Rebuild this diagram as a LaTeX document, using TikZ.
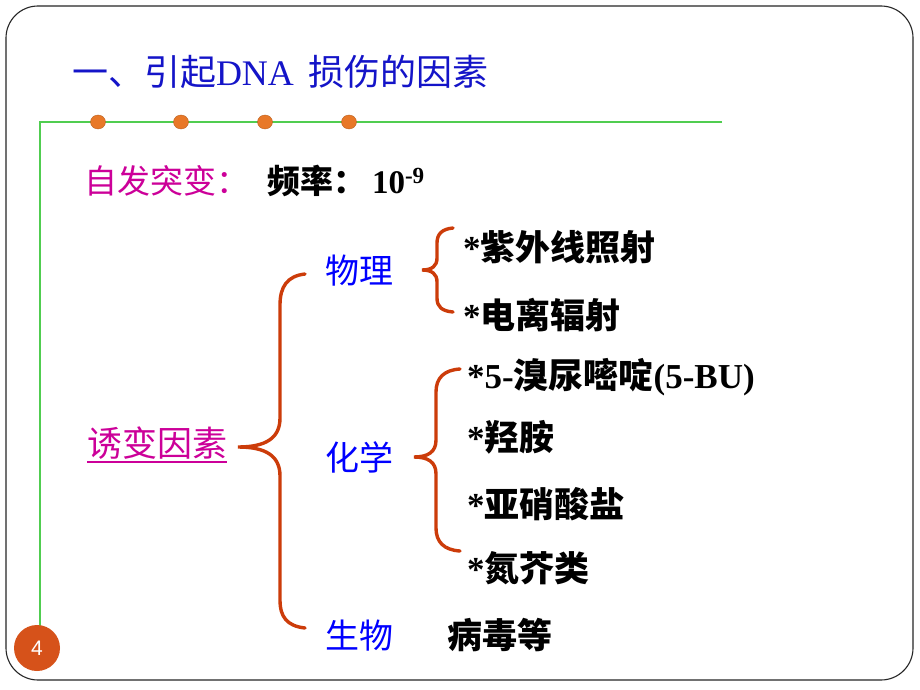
\documentclass[tikz,border=0pt]{standalone}
\usepackage{fontspec}
\usetikzlibrary{shapes.geometric}
\newfontfamily\cjk{Noto Sans CJK SC}
\newfontfamily\tnr{Liberation Serif}
\newfontfamily\arial{Liberation Sans}
\definecolor{titleblue}{RGB}{20,20,200}
\definecolor{catblue}{RGB}{0,0,255}
\definecolor{mag}{RGB}{204,0,153}
\definecolor{bracec}{RGB}{204,60,10}
\definecolor{dotc}{RGB}{232,120,40}
\definecolor{pagec}{RGB}{214,82,26}
\definecolor{greenl}{RGB}{80,205,80}
\begin{document}
\begin{tikzpicture}[x=1pt,y=-1pt,
  txt/.style={anchor=base west,inner sep=0pt,outer sep=0pt},
  itm/.style={txt,text=black,font=\fontsize{35}{40}\selectfont\cjk\bfseries},
  cat/.style={txt,text=catblue,font=\fontsize{34}{40}\selectfont\cjk},
  brc/.style={draw=bracec,line width=3.4pt,line cap=round},
  dotn/.style={ellipse,fill=dotc,draw=dotc!80!black,line width=0.4pt,minimum width=15pt,minimum height=14pt,inner sep=0pt}]
\useasboundingbox (0,0) rectangle (920,690);
\fill[white] (0,0) rectangle (920,690);
\draw[line width=1.1pt,draw=black!85,rounded corners=32pt] (6,6) rectangle (913,680);
% green rules
\coordinate (gl) at (40,122);
\coordinate (gr) at (722,122);
\coordinate (gb) at (40,633);
\draw[greenl,line width=1.2pt] (gr) -- (gl) -- (gb);
\foreach \i/\x in {1/98,2/181,3/265,4/349}{
  \node[dotn] (dot\i) at (\x,122) {};
}
% title
\node[txt,text=titleblue,font=\fontsize{36}{42}\selectfont] (title) at (72,86)
  {{\cjk 一、引起}{\tnr DNA}\hspace{15pt}{\cjk 损伤的因素}};
% spontaneous
\node[txt,text=mag,font=\fontsize{33}{40}\selectfont\cjk] (spont) at (84,193) {自发突变：};
\node[txt,text=black,font=\fontsize{33}{40}\selectfont\cjk\bfseries] (freq) at (267,193)
  {频率：\hspace{6pt}{\tnr\bfseries 10\textsuperscript{-9}}};
% categories
\node[txt,text=mag,font=\fontsize{35}{40}\selectfont\cjk] (mut) at (87,456) {诱变因素};
\draw[mag,line width=1.5pt] (mut.base west) ++(0,6) coordinate (ul1) -- (ul1 -| mut.base east);
\node[cat] (phys) at (325,283) {物理};
\node[cat] (chem) at (325,470) {化学};
\node[cat] (bio) at (325,648) {生物};
\node[itm] (virus) at (447,648) {病毒等};
% items
\node[itm] (uv) at (463,260) {{\tnr\bfseries *}紫外线照射};
\node[itm] (ion) at (463,328) {{\tnr\bfseries *}电离辐射};
\node[itm] (bu) at (467,388) {{\tnr\bfseries *5-}溴尿嘧啶{\tnr\bfseries (5-BU)}};
\node[itm] (ha) at (467,450) {{\tnr\bfseries *}羟胺};
\node[itm] (nit) at (467,517) {{\tnr\bfseries *}亚硝酸盐};
\node[itm] (mus) at (467,581) {{\tnr\bfseries *}氮芥类};
% braces
\draw[brc] (305,274) .. controls (287,276) and (280,287) .. (280,305) -- (280,418)
  .. controls (280,438) and (266,447) .. (238,447)
  .. controls (266,447) and (280,456) .. (280,476) -- (280,600)
  .. controls (280,617) and (287,626) .. (305,628);
\draw[brc] (453,228) .. controls (442,229) and (437,234) .. (437,243) -- (437,258)
  .. controls (437,266) and (432,270) .. (422,270)
  .. controls (432,270) and (437,274) .. (437,282) -- (437,298)
  .. controls (437,307) and (442,311) .. (453,312);
\draw[brc] (460,369) .. controls (444,370) and (436,378) .. (436,392) -- (436,440)
  .. controls (436,452) and (428,457) .. (414,457)
  .. controls (428,457) and (436,462) .. (436,474) -- (436,528)
  .. controls (436,542) and (444,550) .. (460,551);
% page number
\node[circle,fill=pagec,minimum size=46pt,inner sep=0pt,text=white,font=\fontsize{21}{24}\selectfont\arial] (pg) at (37,648) {4};
\end{tikzpicture}
\end{document}
